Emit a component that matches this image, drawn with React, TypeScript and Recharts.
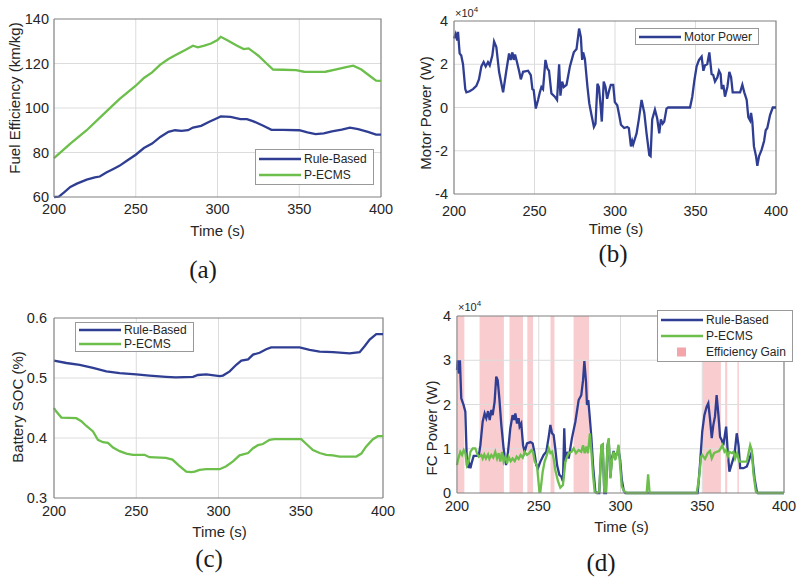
import { LineChart, Line, XAxis, YAxis, Legend, ReferenceArea, Label } from 'recharts'

const FONT = '"Liberation Sans", Arial, sans-serif'
const BLUE = '#2f3e93'
const GREEN = '#6bbf4a'
const PINK = '#f9cdd0'
const PINK_KEY = '#f4a5a9'
const TEXT = '#262626'
const AXIS = '#808080'
const GRID = '#dcdcdc'

const timeTicks = [200, 250, 300, 350, 400]

// (a) fuel efficiency, km/kg
const effTimeRB = [200, 203, 206, 210, 214, 220, 225, 228, 232, 236, 240, 245, 250, 255, 260, 265, 270, 274, 278, 282, 285, 290, 295, 300, 302, 308, 314, 318, 322, 328, 333, 340, 350, 355, 360, 365, 370, 376, 381, 386, 392, 397, 400]
const effRB = [60, 60.2, 62, 64.5, 66, 67.8, 68.8, 69.2, 71, 72.5, 74, 76.5, 79, 82, 84, 87, 89.3, 90, 89.7, 90, 91.2, 92, 93.8, 95.5, 96.2, 96, 95, 95, 94, 92, 90.2, 90.2, 90, 89, 88.3, 88.6, 89.5, 90.3, 91.2, 90.5, 89.3, 88, 88]
const effTimeEC = [200, 210, 220, 230, 240, 250, 255, 260, 265, 270, 275, 280, 285, 288, 292, 296, 300, 302, 306, 312, 316, 319, 325, 330, 334, 340, 348, 353, 360, 366, 372, 378, 383, 388, 393, 397, 400]
const effEC = [77.5, 84, 90, 97, 104, 110, 113.5, 116, 119.5, 122, 124, 126, 128, 127.3, 128, 129, 130.5, 132, 130.5, 128, 126.5, 126.8, 123.5, 120, 117.3, 117.2, 117, 116.3, 116.2, 116.3, 117.3, 118.3, 119, 117.3, 114.5, 112.3, 112.2]
const effTicks = [60, 80, 100, 120, 140]

// (b) motor power, x10^4 W
const motorTime = [200, 201, 202, 202.5, 203.5, 204.5, 205.6, 207, 207.7, 209.7, 211.8, 213.9, 215.5, 217, 218.4, 219.7, 221.1, 222.2, 223.8, 224.9, 226.3, 228, 230.5, 232.5, 234.2, 235.2, 236.3, 237.1, 237.9, 238.8, 240.4, 241.5, 242.9, 246, 247.7, 248.7, 249.5, 250.8, 252.2, 253.3, 254.3, 255.3, 256.8, 258, 259, 260.5, 262.6, 264, 265.3, 266.1, 267.2, 268.2, 269.9, 272, 274.4, 276.1, 277.7, 278.8, 279.6, 280.2, 281.3, 282.9, 284, 285.4, 286.9, 287.9, 289.1, 290, 291.2, 291.8, 293, 294.1, 295.1, 296.4, 297.4, 298.9, 299.9, 301.4, 302.6, 303.7, 305.7, 307.6, 308.6, 309.9, 310.7, 311.3, 313.4, 314.8, 316.5, 318.2, 319.6, 321.3, 322.1, 323.1, 324.8, 326.2, 327.5, 328.5, 329.6, 330.6, 332, 333, 346.6, 348, 349.3, 350.7, 352.2, 353.8, 354.9, 355.9, 357.3, 358.6, 360, 361, 362.1, 363.6, 364.6, 365.6, 366.3, 367.3, 368.3, 369.8, 371, 372.1, 373.1, 377.7, 379.1, 380.3, 381.8, 382.8, 383.9, 384.5, 385.3, 386.3, 387.6, 388.4, 389.5, 391.1, 392.6, 393.6, 394.6, 396.3, 398, 400]
const motorPower = [3.2, 3.4, 3.1, 3.5, 2.5, 2.4, 2.0, 0.85, 0.7, 0.75, 0.85, 1.0, 1.3, 1.9, 2.1, 1.9, 2.1, 1.95, 2.4, 3.05, 2.8, 1.65, 0.7, 1.7, 2.5, 2.2, 2.55, 2.2, 2.45, 2.2, 1.7, 1.3, 1.65, 1.7, 1.5, 0.85, 0.8, -0.05, 0.35, 0.7, 0.95, 0.85, 2.2, 1.8, 1.7, 0.65, 0.5, 0.35, 2.0, 0.55, 1.2, 0.95, 1.05, 1.9, 2.55, 2.7, 3.65, 3.25, 2.2, 2.55, 2.25, 0.95, 0.2, -0.35, -0.9, -0.75, 1.1, 0.95, -0.05, -0.65, 1.2, 0.95, 0.4, 0.8, 1.05, 1.05, 0.25, 0.1, -0.35, -0.8, -0.95, -0.9, -0.95, -1.8, -1.55, -1.7, -1.2, -0.55, 0.35, -0.25, -1.2, -2.2, -2.25, -0.55, -0.1, -0.5, -1.2, -0.55, -0.75, -0.65, -0.05, 0, 0, 0.5, 1.25, 1.9, 2.2, 2.35, 1.7, 1.95, 2.0, 2.55, 1.55, 1.5, 1.2, 1.4, 1.7, 1.55, 0.85, 1.05, 0.5, 0.95, 1.65, 1.4, 0.7, 0.7, 1.05, 0.7, 0.35, -0.45, -0.6, -0.25, -0.65, -1.8, -2.25, -2.7, -2.25, -1.95, -1.55, -1.05, -0.95, -0.35, 0, 0]
const motorTicks = [-4, -2, 0, 2, 4]

// (c) battery SOC
const socTimeRB = [200, 207.5, 215.6, 223.7, 231.8, 239.9, 250, 258, 268, 274, 284.5, 287.5, 292.6, 300.7, 302.7, 306.8, 310.8, 313.9, 318, 321, 325, 329, 332, 349.3, 355.4, 361.5, 369.6, 379.7, 385.8, 388.8, 391.9, 395.9, 400]
const socRB = [0.529, 0.525, 0.522, 0.517, 0.511, 0.508, 0.506, 0.504, 0.502, 0.501, 0.502, 0.505, 0.506, 0.503, 0.504, 0.511, 0.522, 0.529, 0.531, 0.539, 0.542, 0.548, 0.551, 0.551, 0.547, 0.544, 0.543, 0.541, 0.543, 0.553, 0.564, 0.573, 0.573]
const socTimeEC = [200, 201.4, 204.5, 213.6, 216.6, 219.7, 223.7, 226.7, 229.8, 232.8, 235.9, 239.9, 244, 248, 255, 258, 268, 272, 276, 280.4, 283.5, 285.5, 288.5, 292.6, 300.7, 304.7, 308.8, 312.8, 318, 321, 324, 327, 331, 334, 350.3, 353.4, 357.4, 361.5, 365.5, 369.6, 373.6, 383.8, 386.8, 389.8, 393.9, 396.9, 400]
const socEC = [0.45, 0.444, 0.434, 0.433, 0.428, 0.42, 0.411, 0.397, 0.393, 0.392, 0.384, 0.378, 0.374, 0.372, 0.372, 0.368, 0.367, 0.364, 0.354, 0.344, 0.343, 0.344, 0.347, 0.348, 0.348, 0.353, 0.361, 0.371, 0.375, 0.383, 0.388, 0.39, 0.397, 0.398, 0.398, 0.39, 0.38, 0.375, 0.372, 0.371, 0.369, 0.369, 0.374, 0.386, 0.398, 0.403, 0.403]
const socTicks = [0.3, 0.4, 0.5, 0.6]

// (d) fuel cell power, x10^4 W
const fcTimeRB = [200, 200.4, 201, 201.8, 202.6, 204, 205.1, 206.1, 206.7, 207.5, 208.2, 209.2, 210.2, 213.3, 214.3, 215.7, 216.9, 217.9, 219, 220, 221, 221.8, 223, 224, 224.9, 225.9, 227.1, 228.5, 230, 231.2, 232.6, 234, 234.9, 235.7, 236.7, 237.7, 238.3, 239.3, 240.4, 241.4, 242.8, 244.9, 246.3, 247.3, 248.5, 249.5, 251, 253, 254.6, 256.1, 257.1, 258.1, 259.1, 260.1, 261.2, 262.6, 263.8, 264.8, 265.6, 266.3, 267.3, 268.3, 270.3, 272.4, 274.4, 276, 277.1, 277.9, 278.9, 279.5, 280.3, 281.1, 282.2, 283.2, 284.6, 285.6, 287, 288.3, 289.1, 290.1, 291.1, 292, 292.8, 293.8, 294.8, 295.8, 296.8, 297.9, 298.8, 299.8, 300.8, 302, 303, 347.2, 348.6, 350, 351.3, 352.7, 353.7, 354.7, 355.8, 356.8, 357.8, 358.8, 359.9, 360.9, 361.9, 362.9, 364.6, 365.6, 366.6, 368.1, 369.7, 371.1, 372.2, 373.2, 375.2, 377.3, 378.3, 379.3, 380.3, 382, 383.4, 384, 400]
const fcRB = [2.78, 3.0, 2.7, 3.0, 2.14, 1.99, 1.84, 0.63, 0.6, 0.67, 0.56, 0.71, 0.84, 0.84, 1.08, 1.61, 1.8, 1.69, 1.85, 1.65, 1.88, 1.76, 2.06, 2.63, 2.55, 2.14, 1.54, 1.01, 0.63, 0.93, 1.46, 1.76, 1.65, 1.8, 1.57, 1.69, 1.5, 1.57, 1.08, 0.93, 1.12, 1.15, 1.12, 0.93, 0.63, 0.56, 0.71, 0.86, 0.93, 1.27, 1.54, 1.35, 1.31, 1.01, 0.63, 0.41, 0.37, 0.26, 1.46, 0.71, 0.93, 0.78, 1.24, 1.61, 2.1, 2.21, 2.55, 2.98, 2.52, 1.99, 2.1, 1.76, 1.24, 0.63, 0.03, 0, 0, 1.05, 1.08, 0, 0, 1.05, 1.2, 0.35, 0.8, 0.95, 0.8, 0.9, 0.97, 0.75, 0.3, 0.05, 0, 0, 0.63, 1.39, 1.76, 1.95, 2.03, 1.69, 1.24, 1.54, 1.73, 2.21, 1.76, 1.27, 1.2, 1.08, 1.5, 0.93, 0.48, 0.67, 0.86, 1.35, 1.08, 0.56, 0.56, 0.6, 0.71, 0.82, 0.93, 0.33, 0.03, 0, 0]
const fcTimeEC = [200, 200.6, 202, 203.1, 204.1, 205.1, 206.1, 207.1, 208.2, 209.6, 211.2, 212.2, 213.3, 214.9, 215.7, 216.7, 217.7, 219, 219.8, 221, 222.2, 223.4, 224.5, 225.5, 226.5, 227.5, 228.5, 229.6, 230.6, 231.6, 232.8, 234, 235.3, 236.5, 237.7, 238.9, 240.2, 241.4, 242.8, 244.2, 245.5, 246.5, 247.5, 248.9, 250.4, 251, 252.4, 253.6, 255, 256.1, 257.1, 258.1, 259.1, 260.1, 261.8, 263.2, 264.8, 266.3, 267.3, 268.3, 270, 271.4, 272.8, 274.4, 276, 277.1, 278.1, 279.1, 280.1, 281.3, 282.2, 283.2, 284.2, 285.6, 287, 288.3, 289.1, 290.1, 291.1, 292, 292.8, 293.8, 294.8, 295.8, 296.8, 297.9, 298.8, 299.8, 300.8, 302.3, 303.9, 316, 316.9, 317.8, 346.6, 348, 349.3, 350, 351.7, 353.3, 354.7, 355.8, 357.2, 358.8, 360.3, 361.5, 362.3, 363.6, 364.6, 365.6, 366.6, 368.1, 369.1, 370.1, 371.3, 372.6, 374.1, 377.3, 378.3, 379.3, 380.3, 381.3, 382.8, 384, 400]
const fcEC = [0.63, 0.75, 0.93, 0.86, 0.97, 0.9, 0.63, 0.71, 0.93, 1.01, 1.01, 0.9, 0.82, 0.86, 0.78, 0.87, 0.78, 0.87, 0.77, 0.86, 0.8, 0.93, 0.78, 0.9, 0.71, 0.93, 0.71, 0.82, 0.67, 0.82, 0.72, 0.78, 0.72, 0.82, 0.77, 0.86, 0.8, 0.93, 0.86, 0.9, 0.97, 0.93, 0.71, 0.63, 0.03, 0.03, 0.48, 0.71, 0.86, 1.01, 0.9, 0.93, 0.78, 0.52, 0.26, 0.12, 0.18, 0.71, 0.82, 0.9, 0.93, 1.01, 0.9, 0.97, 0.93, 1.08, 0.9, 1.05, 0.9, 1.35, 0.93, 0.41, 0.03, 0, 0.03, 1.08, 1.1, 0.03, 0.03, 1.08, 1.24, 0.33, 0.75, 0.93, 0.75, 0.9, 1.09, 0.6, 0.15, 0.04, 0, 0, 0.42, 0, 0, 0.33, 0.82, 0.86, 0.77, 0.9, 0.95, 0.78, 0.9, 0.93, 0.95, 1.02, 1.08, 0.93, 0.97, 0.82, 0.93, 0.9, 0.93, 0.78, 0.9, 0.71, 0.71, 0.71, 0.9, 1.08, 0.97, 0.44, 0.03, 0, 0]
const gainStart = [200.5, 213.8, 232.1, 243, 257.2, 271.3, 350.2, 364, 371.5]
const gainEnd = [204.5, 228.7, 240.4, 246.5, 259.6, 280.8, 361.4, 365.3, 372.4]
const fcTicks = [0, 1, 2, 3, 4]

const pts = (t: number[], v: number[]) => t.map((x, i) => ({ t: x, v: v[i] }))

type Pt = { t: number; v: number }
type Series = { name: string; color: string; data: Pt[] }
type Extra = { label: string; color: string }

function LegendBox({ series, extra, rowH, pad }: { series: Series[]; extra?: Extra[]; rowH: number; pad: number }) {
  const items = [
    ...series.map((s) => ({ label: s.name, color: s.color, box: false })),
    ...(extra ?? []).map((e) => ({ ...e, box: true })),
  ]
  return (
    <div
      style={{
        border: '1px solid #999',
        background: '#fff',
        padding: `${pad}px 6px ${pad}px 3px`,
        fontFamily: FONT,
        fontSize: 12,
        color: TEXT,
        whiteSpace: 'nowrap',
      }}
    >
      {items.map((it) => (
        <div key={it.label} style={{ display: 'flex', alignItems: 'center', height: rowH }}>
          <svg width={42} height={10}>
            {it.box ? (
              <rect x={16} y={0.5} width={9} height={9} fill={it.color} />
            ) : (
              <line x1={0} x2={42} y1={5} y2={5} stroke={it.color} strokeWidth={2.4} />
            )}
          </svg>
          <span style={{ marginLeft: 3 }}>{it.label}</span>
        </div>
      ))}
    </div>
  )
}

const title = (text: string, x: number, y: number, rotate: boolean) => () => (
  <text
    x={x}
    y={y}
    transform={rotate ? `rotate(-90 ${x} ${y})` : undefined}
    textAnchor="middle"
    dominantBaseline="central"
    fontSize={15}
    fill={TEXT}
  >
    {text}
  </text>
)

const exponent = (x: number, y: number) => () => (
  <text x={x} y={y} fontSize={11} fill={TEXT}>
    ×10<tspan dy={-5} fontSize={8}>4</tspan>
  </text>
)

interface PanelProps {
  left: number
  top: number
  height: number
  margin: { top: number; right: number; left: number; bottom: number }
  yWidth: number
  xHeight: number
  tickGap: number
  yGap: number
  yDomain: [number, number]
  yTicks: number[]
  yFmt?: (v: number) => string
  series: Series[]
  yTitle: [string, number, number]
  xTitle: [number, number]
  legendPos: { left: number; top: number }
  rowH: number
  pad: number
  extra?: Extra[]
  areas?: [number, number][]
  exp?: [number, number]
}

function Panel(p: PanelProps) {
  const tick = { fontSize: 14.5, fill: TEXT }
  const [yMin, yMax] = p.yDomain
  // grid lines and the top/right frame, as plain segments on the tick values
  const guides: { key: string; color: string; w: number; data: Pt[] }[] = [
    ...timeTicks.slice(1, -1).map((x) => ({ key: `gx${x}`, color: GRID, w: 1, data: [{ t: x, v: yMin }, { t: x, v: yMax }] })),
    ...p.yTicks.slice(1, -1).map((y) => ({ key: `gy${y}`, color: GRID, w: 1, data: [{ t: 200, v: y }, { t: 400, v: y }] })),
    { key: 'frame', color: AXIS, w: 1.2, data: [{ t: 200, v: yMax }, { t: 400, v: yMax }, { t: 400, v: yMin }] },
  ]
  return (
    <div style={{ position: 'absolute', left: p.left, top: p.top }}>
      <LineChart width={400} height={p.height} margin={p.margin}>
        {(p.areas ?? []).map(([a, b]) => (
          <ReferenceArea key={a} x1={a} x2={b} y1={yMin} y2={yMax} fill={PINK} fillOpacity={1} stroke="none" />
        ))}
        <ReferenceArea x1={200} x2={400} y1={yMin} y2={yMax} fill="none" stroke="none">
          {p.exp ? <Label content={exponent(p.exp[0], p.exp[1])} /> : null}
        </ReferenceArea>
        <XAxis
          dataKey="t"
          type="number"
          domain={[200, 400]}
          ticks={timeTicks}
          tick={tick}
          tickLine={false}
          tickSize={0}
          tickMargin={p.tickGap}
          height={p.xHeight}
          axisLine={{ stroke: AXIS, strokeWidth: 1.2 }}
        >
          <Label content={title('Time (s)', p.xTitle[0], p.xTitle[1], false)} />
        </XAxis>
        <YAxis
          type="number"
          domain={p.yDomain}
          ticks={p.yTicks}
          tick={tick}
          tickFormatter={p.yFmt}
          tickLine={false}
          tickSize={0}
          tickMargin={p.yGap}
          width={p.yWidth}
          axisLine={{ stroke: AXIS, strokeWidth: 1.2 }}
        >
          <Label content={title(p.yTitle[0], p.yTitle[1], p.yTitle[2], true)} />
        </YAxis>
        {guides.map((g) => (
          <Line
            key={g.key}
            data={g.data}
            dataKey="v"
            type="linear"
            stroke={g.color}
            strokeWidth={g.w}
            dot={false}
            activeDot={false}
            legendType="none"
            isAnimationActive={false}
          />
        ))}
        {p.series.map((s) => (
          <Line
            key={s.name}
            data={s.data}
            dataKey="v"
            name={s.name}
            type="linear"
            stroke={s.color}
            strokeWidth={2.3}
            dot={false}
            isAnimationActive={false}
          />
        ))}
        <Legend
          layout="vertical"
          align="center"
          verticalAlign="middle"
          wrapperStyle={{ left: p.legendPos.left, top: p.legendPos.top, width: 'auto', height: 'auto' }}
          content={() => <LegendBox series={p.series} extra={p.extra} rowH={p.rowH} pad={p.pad} />}
        />
      </LineChart>
    </div>
  )
}

const caption = (text: string, cx: number, cy: number) => (
  <div
    style={{
      position: 'absolute',
      left: cx - 30,
      top: cy - 17,
      width: 60,
      lineHeight: '30px',
      textAlign: 'center',
      fontFamily: '"Liberation Serif", "Times New Roman", serif',
      fontSize: 25,
      color: '#1a1a1a',
    }}
  >
    {text}
  </div>
)

export default function App() {
  return (
    <div style={{ position: 'absolute', left: 0, top: 0, width: 800, height: 586, background: '#fff', fontFamily: FONT }}>
      <Panel
        left={0}
        top={0}
        height={245}
        margin={{ top: 19, right: 19, left: 0, bottom: 0 }}
        yWidth={54}
        xHeight={48}
        tickGap={7}
        yGap={5}
        yDomain={[60, 140]}
        yTicks={effTicks}
        series={[
          { name: 'Rule-Based', color: BLUE, data: pts(effTimeRB, effRB) },
          { name: 'P-ECMS', color: GREEN, data: pts(effTimeEC, effEC) },
        ]}
        yTitle={['Fuel Efficiency (km/kg)', 14, 98]}
        xTitle={[217.5, 230]}
        legendPos={{ left: 255, top: 149 }}
        rowH={16}
        pad={1}
      />
      <Panel
        left={400}
        top={0}
        height={245}
        margin={{ top: 21, right: 24, left: 0, bottom: 0 }}
        yWidth={54}
        xHeight={51}
        tickGap={12}
        yGap={6}
        yDomain={[-4, 4]}
        yTicks={motorTicks}
        series={[{ name: 'Motor Power', color: BLUE, data: pts(motorTime, motorPower) }]}
        yTitle={['Motor Power (W)', 25, 113]}
        xTitle={[216, 228]}
        legendPos={{ left: 235, top: 28 }}
        rowH={15}
        pad={0}
        exp={[55, 17]}
      />
      <Panel
        left={0}
        top={290}
        height={250}
        margin={{ top: 28, right: 17, left: 0, bottom: 0 }}
        yWidth={54}
        xHeight={42}
        tickGap={8}
        yGap={7}
        yDomain={[0.3, 0.6]}
        yTicks={socTicks}
        yFmt={(v) => v.toFixed(1)}
        series={[
          { name: 'Rule-Based', color: BLUE, data: pts(socTimeRB, socRB) },
          { name: 'P-ECMS', color: GREEN, data: pts(socTimeEC, socEC) },
        ]}
        yTitle={['Battery SOC (%)', 17, 117]}
        xTitle={[219.5, 241.5]}
        legendPos={{ left: 75, top: 32 }}
        rowH={14}
        pad={0}
      />
      <Panel
        left={400}
        top={290}
        height={250}
        margin={{ top: 26, right: 16, left: 0, bottom: 0 }}
        yWidth={57}
        xHeight={47}
        tickGap={8}
        yGap={6}
        yDomain={[0, 4]}
        yTicks={fcTicks}
        series={[
          { name: 'Rule-Based', color: BLUE, data: pts(fcTimeRB, fcRB) },
          { name: 'P-ECMS', color: GREEN, data: pts(fcTimeEC, fcEC) },
        ]}
        yTitle={['FC Power (W)', 31, 138]}
        xTitle={[221.5, 236.5]}
        legendPos={{ left: 257, top: 20 }}
        rowH={16}
        pad={1}
        extra={[{ label: 'Efficiency Gain', color: PINK_KEY }]}
        areas={gainStart.map((s, i) => [s, gainEnd[i]] as [number, number])}
        exp={[58, 21]}
      />
      {caption('(a)', 203, 272)}
      {caption('(b)', 613, 256)}
      {caption('(c)', 209, 561)}
      {caption('(d)', 601, 565)}
    </div>
  )
}
